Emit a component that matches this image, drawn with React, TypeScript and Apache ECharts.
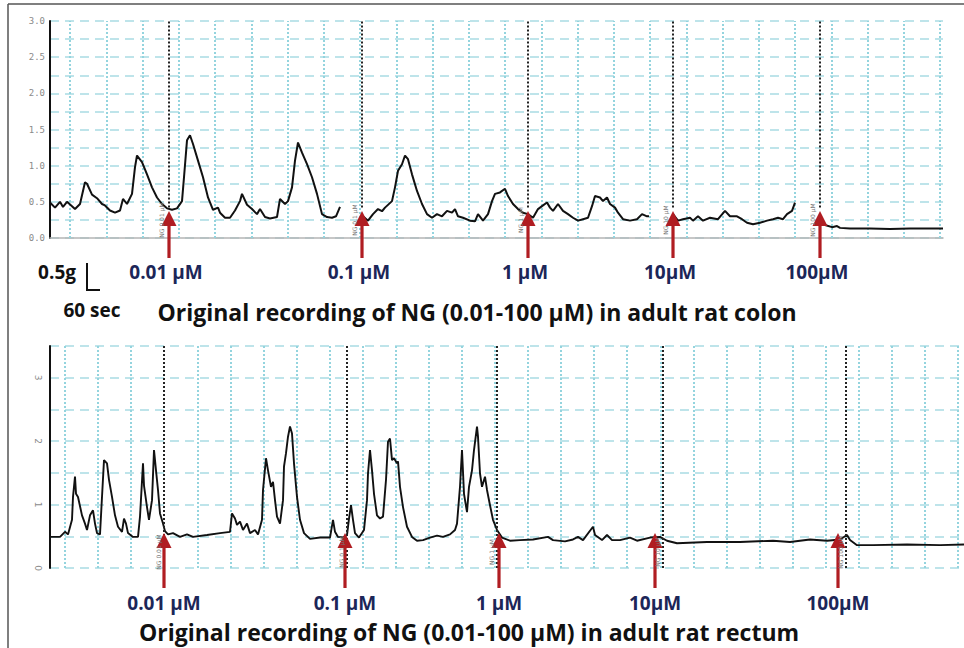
import React, { useEffect, useRef } from "react";
import * as echarts from "echarts";

// ---- Data (time in samples, force in g) ----
const TOP_TRACE: (number | null)[][] = [
  [0, 0.49], [5, 0.42], [10, 0.5], [13, 0.43], [17, 0.5], [22, 0.44], [25, 0.4], [30, 0.47], [35, 0.77], [37, 0.75],
  [42, 0.6], [47, 0.55], [52, 0.47], [55, 0.45], [60, 0.38], [65, 0.35], [70, 0.38], [73, 0.54], [77, 0.47], [82, 0.61],
  [85, 0.98], [87, 1.14], [92, 1.05], [97, 0.88], [102, 0.7], [107, 0.56], [112, 0.47], [117, 0.41], [122, 0.39], [127, 0.41],
  [132, 0.51], [134, 0.84], [137, 1.35], [140, 1.42], [143, 1.3], [148, 1.07], [153, 0.84], [158, 0.56], [163, 0.39], [168, 0.42],
  [170, 0.35], [175, 0.28], [180, 0.28], [185, 0.38], [190, 0.51], [192, 0.61], [197, 0.46], [202, 0.4], [207, 0.33], [210, 0.4],
  [215, 0.29], [220, 0.27], [227, 0.29], [230, 0.54], [235, 0.47], [238, 0.51], [242, 0.7], [245, 1.07], [248, 1.32], [252, 1.18],
  [257, 1.02], [262, 0.84], [267, 0.61], [272, 0.33], [277, 0.29], [282, 0.28], [286, 0.3], [290, 0.43], [291, null],
  [313, 0.3], [318, 0.24], [323, 0.33], [328, 0.4], [332, 0.37], [335, 0.42], [342, 0.51], [345, 0.7], [348, 0.93], [352, 1.02],
  [355, 1.14], [358, 1.09], [362, 0.88], [367, 0.65], [372, 0.47], [377, 0.33], [382, 0.28], [387, 0.33], [392, 0.3], [397, 0.375],
  [402, 0.35], [405, 0.4], [408, 0.3], [413, 0.28], [420, 0.24], [425, 0.23], [428, 0.33], [433, 0.24], [438, 0.33], [442, 0.51],
  [445, 0.61], [450, 0.63], [455, 0.68], [458, 0.58], [463, 0.47], [468, 0.4], [473, 0.35], [478, 0.33], [483, 0.28], [488, 0.4],
  [492, 0.44], [497, 0.49], [500, 0.42], [503, 0.375], [508, 0.47], [513, 0.375], [518, 0.33], [523, 0.28], [528, 0.24], [533, 0.26],
  [538, 0.28], [542, 0.44], [545, 0.58], [550, 0.56], [553, 0.51], [557, 0.56], [560, 0.47], [565, 0.42], [568, 0.35], [573, 0.26],
  [580, 0.24], [587, 0.26], [592, 0.33], [597, 0.3], [599, 0.3], [600, null],
  [623, 0.33], [628, 0.24], [633, 0.26], [640, 0.28], [643, 0.24], [648, 0.3], [653, 0.24], [660, 0.28], [668, 0.26], [675, 0.375],
  [680, 0.3], [687, 0.3], [692, 0.26], [697, 0.21], [703, 0.19], [710, 0.21], [717, 0.24], [723, 0.26], [728, 0.28], [733, 0.26],
  [737, 0.33], [742, 0.375], [745, 0.49], [746, null],
  [770, 0.24], [775, 0.18], [782, 0.15], [787, 0.165], [790, 0.14], [800, 0.13], [820, 0.13], [840, 0.125], [860, 0.13], [880, 0.13], [893, 0.13],
];

const BOTTOM_TRACE: number[][] = [
  [0, 0.49], [10, 0.49], [15, 0.57], [18, 0.53], [22, 0.76], [23, 1.12], [25, 1.44], [26, 1.17], [28, 1.12], [32, 0.83],
  [35, 0.7], [37, 0.6], [40, 0.83], [43, 0.91], [45, 0.7], [47, 0.55], [50, 0.53], [52, 1.12], [54, 1.7], [57, 1.65],
  [59, 1.39], [62, 1.12], [65, 0.83], [68, 0.65], [72, 0.57], [74, 0.78], [76, 0.7], [78, 0.55], [83, 0.49], [88, 0.49],
  [90, 0.81], [93, 1.65], [94, 1.3], [97, 0.96], [99, 0.76], [102, 1.07], [104, 1.86], [106, 1.54], [108, 1.23], [110, 0.86],
  [113, 0.7], [115, 0.58], [118, 0.53], [123, 0.55], [130, 0.49], [137, 0.53], [143, 0.49], [157, 0.52], [170, 0.55], [180, 0.57],
  [182, 0.86], [185, 0.78], [187, 0.68], [190, 0.73], [193, 0.6], [197, 0.7], [200, 0.55], [205, 0.6], [208, 0.53], [212, 0.76],
  [213, 1.23], [216, 1.73], [218, 1.54], [221, 1.28], [223, 1.36], [225, 1.07], [227, 0.81], [230, 0.7], [233, 1.07], [234, 1.6],
  [236, 1.81], [238, 2.07], [240, 2.23], [242, 2.12], [244, 1.65], [247, 1.12], [250, 0.76], [254, 0.55], [260, 0.46], [270, 0.48],
  [280, 0.48], [283, 0.76], [285, 0.57], [288, 0.49], [293, 0.48], [297, 0.52], [299, 0.78], [301, 0.99], [303, 0.76], [305, 0.55],
  [309, 0.48], [314, 0.6], [317, 1.07], [318, 1.49], [320, 1.86], [322, 1.54], [324, 1.17], [327, 0.83], [330, 0.78], [333, 0.81],
  [336, 1.39], [338, 1.99], [340, 2.04], [342, 1.7], [344, 1.73], [347, 1.65], [348, 1.68], [350, 1.28], [353, 0.96], [357, 0.65],
  [362, 0.49], [367, 0.43], [373, 0.44], [380, 0.48], [387, 0.51], [393, 0.49], [400, 0.53], [405, 0.6], [407, 0.7], [410, 1.28],
  [412, 1.86], [414, 1.17], [417, 0.88], [419, 1.28], [422, 1.54], [424, 1.86], [427, 2.23], [428, 2.07], [430, 1.49], [432, 1.28],
  [435, 1.44], [437, 1.23], [440, 0.99], [443, 0.76], [447, 0.6], [452, 0.48], [460, 0.43], [470, 0.44], [483, 0.45], [498, 0.49],
  [503, 0.44], [515, 0.42], [523, 0.45], [528, 0.49], [533, 0.44], [543, 0.65], [545, 0.52], [552, 0.44], [557, 0.52], [562, 0.44],
  [570, 0.44], [580, 0.48], [587, 0.43], [600, 0.48], [610, 0.49], [617, 0.43], [627, 0.39], [657, 0.41], [690, 0.41], [723, 0.43],
  [740, 0.41], [760, 0.45], [777, 0.43], [790, 0.45], [797, 0.52], [800, 0.44], [807, 0.36], [823, 0.36], [857, 0.37], [890, 0.36], [914, 0.37],
];

const TOP_DOSES = [119, 312, 478, 623, 770];
const BOTTOM_DOSES = [114, 297, 447, 613, 796];
const BOTTOM_ARROWS = [114, 295, 449, 605, 788];
const DOSE_LABELS = ["0.01 µM", "0.1 µM", "1 µM", "10µM", "100µM"];
const EVENT_TAGS = ["NG 0.01 µM", "NG 0.1 µM", "NG 1 µM", "NG 10 µM", "NG 100 µM"];
const TOP_CAPTION = "Original recording of NG (0.01-100 µM) in adult rat colon";
const BOTTOM_CAPTION = "Original recording of NG (0.01-100 µM) in adult rat rectum";
const SCALE_Y_LABEL = "0.5g";
const SCALE_X_LABEL = "60 sec";

const TOP_X_MAX = 893;
const BOTTOM_X_MAX = 914;
const TOP_Y_MAX = 3;
const BOTTOM_Y_MAX = 3.5;

// gridline spacing (chart paper), in samples
const TOP_PAPER = { start: 20, step: 36.25 };
const BOTTOM_PAPER = { start: 15, step: 33.07 };

const CYAN_V = "#94d4de";
const CYAN_H = "#a9dbe3";
const RED = "#b01d22";
const NAVY = "#1c2658";
const TEXT_FONT = "Open Sans";

function paperLines(start: number, step: number, max: number) {
  const out: any[] = [];
  for (let v = start; v <= max; v += step) out.push({ xAxis: v });
  return out;
}

export default function App() {
  const ref = useRef<HTMLDivElement>(null);
  useEffect(() => {
    if (!ref.current) return;
    const chart = echarts.init(ref.current, null, { renderer: "svg" });
    const hLine = { show: true, lineStyle: { color: CYAN_H, type: [9, 6], width: 1.5 } };
    const option: any = {
      animation: false,
      backgroundColor: "#ffffff",
      grid: [
        { left: 50, top: 21, width: TOP_X_MAX, height: 217 },
        { left: 50, top: 346, width: BOTTOM_X_MAX, height: 222 },
      ],
      xAxis: [
        {
          type: "value", gridIndex: 0, min: 0, max: TOP_X_MAX,
          axisLine: { show: true, lineStyle: { color: "#b5b5b5", width: 1.5 } },
          axisTick: { show: false }, axisLabel: { show: false }, splitLine: { show: false },
        },
        {
          type: "value", gridIndex: 1, min: 0, max: BOTTOM_X_MAX,
          axisLine: { show: false }, axisTick: { show: false }, axisLabel: { show: false }, splitLine: { show: false },
        },
      ],
      yAxis: [
        {
          type: "value", gridIndex: 0, min: 0, max: TOP_Y_MAX, interval: 0.5,
          axisLine: { show: true, lineStyle: { color: "#111", width: 2 } },
          axisTick: { show: false },
          axisLabel: {
            color: "#8a8a8a", fontSize: 9, fontFamily: "DejaVu Sans Mono", margin: 5,
            formatter: (v: number) => v.toFixed(1),
          },
          splitLine: hLine,
          minorTick: { show: false, splitNumber: 2 },
          minorSplitLine: hLine,
        },
        {
          type: "value", gridIndex: 1, min: 0, max: BOTTOM_Y_MAX, interval: 0.5,
          axisLine: { show: true, lineStyle: { color: "#111", width: 2 } },
          axisTick: { show: false },
          axisLabel: {
            color: "#8a8a8a", fontSize: 9, fontFamily: "DejaVu Sans", margin: 8, rotate: -90,
            formatter: (v: number) => (Number.isInteger(v) ? String(v) : ""),
          },
          splitLine: hLine,
        },
      ],
      series: [
        {
          type: "line", xAxisIndex: 0, yAxisIndex: 0, data: TOP_TRACE, showSymbol: false, z: 3,
          lineStyle: { color: "#111", width: 2 }, connectNulls: false,
          markLine: {
            z: 1, silent: true, symbol: ["none", "none"], label: { show: false },
            lineStyle: { color: CYAN_V, type: [2, 2], width: 2 },
            data: paperLines(TOP_PAPER.start, TOP_PAPER.step, TOP_X_MAX),
          },
        },
        {
          type: "line", xAxisIndex: 0, yAxisIndex: 0, data: [], z: 4,
          markLine: {
            z: 4, silent: true, symbol: ["none", "none"], label: { show: false },
            lineStyle: { color: "#222", type: [2, 2], width: 2 },
            data: TOP_DOSES.map((t) => [{ coord: [t, 0.42] }, { coord: [t, TOP_Y_MAX] }]),
          },
        },
        {
          type: "line", xAxisIndex: 1, yAxisIndex: 1, data: BOTTOM_TRACE, showSymbol: false, z: 3,
          lineStyle: { color: "#111", width: 1.9 },
          markLine: {
            z: 1, silent: true, symbol: ["none", "none"], label: { show: false },
            lineStyle: { color: CYAN_V, type: [2, 2], width: 2 },
            data: paperLines(BOTTOM_PAPER.start, BOTTOM_PAPER.step, BOTTOM_X_MAX),
          },
        },
        {
          type: "line", xAxisIndex: 1, yAxisIndex: 1, data: [], z: 4,
          markLine: {
            z: 4, silent: true, symbol: ["none", "none"], label: { show: false },
            lineStyle: { color: "#222", type: [2, 2], width: 2 },
            data: BOTTOM_DOSES.map((t) => [{ coord: [t, 0] }, { coord: [t, BOTTOM_Y_MAX] }]),
          },
        },
      ],
    };
    chart.setOption(option);

    const px = (grid: number, t: number, v: number) =>
      chart.convertToPixel({ xAxisIndex: grid, yAxisIndex: grid } as any, [t, v]) as number[];

    const graphics: any[] = [];
    // outer frame
    graphics.push({ type: "line", shape: { x1: 8, y1: 4, x2: 964, y2: 4 }, style: { stroke: "#555", lineWidth: 1.5 } });
    graphics.push({ type: "line", shape: { x1: 8, y1: 4, x2: 8, y2: 648 }, style: { stroke: "#555", lineWidth: 1.5 } });

    const arrow = (x: number, tip: number, end: number) => {
      graphics.push({ type: "rect", z: 20, shape: { x: x - 1.6, y: tip + 10, width: 3.2, height: end - tip - 10 }, style: { fill: RED } });
      graphics.push({ type: "polygon", z: 20, shape: { points: [[x - 7.5, tip + 15], [x, tip], [x + 7.5, tip + 15]] }, style: { fill: RED } });
    };
    const text = (x: number, y: number, s: string, font: string, fill: string, align = "center", rot = 0) => {
      graphics.push({
        type: "text", z: 21, x, y, rotation: rot,
        style: { text: s, font, fill, align, verticalAlign: "middle", textAlign: align, textVerticalAlign: "middle" },
      });
    };

    // top panel
    const topZero = px(0, 0, 0)[1];
    TOP_DOSES.forEach((t, i) => {
      const x = px(0, t, 0)[0];
      arrow(x, topZero - 27, topZero + 20);
      text(x - 3, topZero + 34, DOSE_LABELS[i], `bold 19px '${TEXT_FONT}'`, NAVY);
      text(x - 8, topZero - 18, EVENT_TAGS[i], "6px DejaVu Sans", "#777", "center", Math.PI / 2);
    });
    // bottom panel
    const botZero = px(1, 0, 0)[1];
    BOTTOM_ARROWS.forEach((t, i) => {
      const x = px(1, t, 0)[0];
      arrow(x, botZero - 35, botZero + 20);
      text(x, botZero + 35, DOSE_LABELS[i], `bold 19px '${TEXT_FONT}'`, NAVY);
    });
    BOTTOM_DOSES.forEach((t, i) => {
      const x = px(1, t, 0)[0];
      text(x - 6, botZero - 16, EVENT_TAGS[i], "6px DejaVu Sans", "#777", "center", Math.PI / 2);
    });

    // scale bar
    graphics.push({ type: "polyline", z: 20, shape: { points: [[87, 263], [87, 290], [100, 290]] }, style: { stroke: "#111", lineWidth: 2, fill: null } });
    text(76, 272, SCALE_Y_LABEL, `bold 19px '${TEXT_FONT}'`, "#111", "right");
    text(92, 310, SCALE_X_LABEL, `bold 19px '${TEXT_FONT}'`, "#111", "center");

    // captions
    text(477, 312, TOP_CAPTION, `bold 23px '${TEXT_FONT}'`, "#111");
    text(469, 632, BOTTOM_CAPTION, `bold 23px '${TEXT_FONT}'`, "#111");

    chart.setOption({ graphic: { elements: graphics } });

    return () => chart.dispose();
  }, []);

  return (
    <div
      ref={ref}
      style={{ position: "fixed", left: 0, top: 0, width: 964, height: 648, background: "#fff" }}
    />
  );
}
